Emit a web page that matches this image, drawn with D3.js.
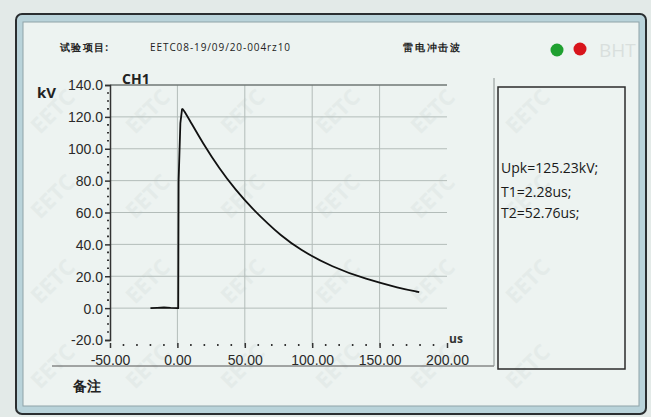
<!DOCTYPE html>
<meta charset="utf-8">
<style>
body { margin: 0; background: #e3eae8; }
svg { font-family: "Open Sans", "Noto Sans", sans-serif; }
</style>
<svg width="651" height="417"></svg>
<script src="https://cdn.jsdelivr.net/npm/d3@7"></script>
<script>

// waveform (time in us, voltage in kV)
var frontUs = [-20, -15, -10, -5, 0, 0.6, 0.9, 2.2, 3.5];
var frontKv = [0, 0.2, 0.4, 0.1, 0, 0, 80, 116, 125.2];
var tailUs = [3.5, 5, 10, 18.6, 31, 43.3, 55.7, 68, 75.5, 90.3, 115, 140, 164.6, 179.4];
var tailKv = [125.2, 124, 116.5, 104, 87.6, 74, 62.3, 52.3, 46.5, 36.8, 25.7, 18.1, 12.6, 10];

var yTicks = [140, 120, 100, 80, 60, 40, 20, 0, -20];
var xTicks = [-50, 0, 50, 100, 150, 200];
var results = ["Upk=125.23kV;", "T1=2.28us;", "T2=52.76us;"];
var header = ["试验项目:", "EETC08-19/09/20-004rz10", "雷电冲击波"];

var svg = d3.select("svg");

// window frame
svg.append("rect").attr("x", 16).attr("y", 14).attr("width", 630).attr("height", 400)
  .attr("rx", 6).attr("fill", "#b9d3da").attr("stroke", "#2a2e30").attr("stroke-width", 2);
svg.append("rect").attr("x", 23).attr("y", 22).attr("width", 616).attr("height", 384)
  .attr("fill", "#edf3f1").attr("stroke", "#8fa3a8").attr("stroke-width", 1);

// faint watermark, every copy fully inside the panel
var wm = svg.append("g").attr("fill", "#e4ebe9").style("font", "bold 22px 'Open Sans'");
for (var i = 0; i < 6; i++) {
  for (var j = 0; j < 4; j++) {
    wm.append("text").attr("transform", "translate(" + (40 + i * 95) + "," + (135 + j * 85) + ") rotate(-45)")
      .text("EETC");
  }
}

var x = d3.scaleLinear().domain([-50, 200]).range([110, 447]);
var y = d3.scaleLinear().domain([-20, 140]).range([340, 85]);

// header
var hx = [60, 150, 403];
svg.selectAll(".hdr").data(header).enter().append("text")
  .attr("x", function(d, i) { return hx[i]; }).attr("y", 51)
  .attr("font-size", 10).attr("fill", "#222")
  .attr("font-weight", function(d, i) { return i == 1 ? "normal" : "bold"; })
  .attr("textLength", function(d, i) { return [48, 140, 57][i]; })
  .text(function(d) { return d; });

svg.append("circle").attr("cx", 557).attr("cy", 50).attr("r", 6.5).attr("fill", "#1fa030");
svg.append("circle").attr("cx", 580).attr("cy", 49).attr("r", 6.5).attr("fill", "#d8141c");
svg.append("text").attr("x", 599).attr("y", 57).attr("font-size", 19).attr("fill", "#d9dfdd").text("BHT");

// grid
var grid = svg.append("g").attr("stroke", "#b3bcb9").attr("stroke-width", 1);
grid.selectAll(".h").data(yTicks.filter(function(d) { return d >= 0 && d < 140; })).enter().append("line")
  .attr("x1", x(-50)).attr("x2", x(200)).attr("y1", function(d) { return y(d); }).attr("y2", function(d) { return y(d); });
grid.selectAll(".v").data([0, 50, 100, 150]).enter().append("line")
  .attr("x1", function(d) { return x(d); }).attr("x2", function(d) { return x(d); })
  .attr("y1", y(140)).attr("y2", 346);
svg.append("line").attr("x1", x(-50)).attr("x2", x(200)).attr("y1", y(140)).attr("y2", y(140))
  .attr("stroke", "#6f7775").attr("stroke-width", 1.3);

// y axis
var yAxis = d3.axisLeft(y).tickValues(yTicks).tickSize(5).tickPadding(2)
  .tickFormat(function(d) { return d.toFixed(1); });
var gy = svg.append("g").attr("transform", "translate(110,0)").call(yAxis);
gy.select(".domain").attr("stroke", "#333").attr("stroke-width", 1.5);
gy.selectAll(".tick line").attr("stroke", "#333").attr("stroke-width", 1.5);
gy.selectAll("text").attr("font-size", 14).attr("fill", "#2a2a2a").attr("dy", "0.35em");
gy.selectAll(".minor").data(d3.range(-15, 140, 5).filter(function(d) { return d % 20 != 0; }))
  .enter().append("line").attr("x1", -3).attr("x2", -1)
  .attr("y1", function(d) { return y(d); }).attr("y2", function(d) { return y(d); })
  .attr("stroke", "#333").attr("stroke-width", 1.6);

// x axis (ticks only)
var xAxis = d3.axisBottom(x).tickValues(xTicks).tickSize(5).tickPadding(7)
  .tickFormat(function(d) { return d.toFixed(2); });
var gx = svg.append("g").attr("transform", "translate(0,343)").call(xAxis);
gx.select(".domain").remove();
gx.selectAll(".tick line").attr("stroke", "#333").attr("stroke-width", 1.5);
gx.selectAll("text").attr("font-size", 14).attr("fill", "#2a2a2a");
gx.selectAll(".minor").data(d3.range(-40, 200, 10).filter(function(d) { return d % 50 != 0; }))
  .enter().append("line").attr("y1", 1).attr("y2", 3)
  .attr("x1", function(d) { return x(d); }).attr("x2", function(d) { return x(d); })
  .attr("stroke", "#333").attr("stroke-width", 1.6);

// axis titles
svg.append("text").attr("x", 37).attr("y", 98).attr("font-size", 15).attr("font-weight", "bold").attr("fill", "#222").text("kV");
svg.append("text").attr("x", 122).attr("y", 84).attr("font-size", 14).attr("font-weight", "bold").attr("fill", "#222").text("CH1");
svg.append("text").attr("x", 449).attr("y", 343).attr("font-size", 12).attr("font-weight", "bold").attr("fill", "#333").text("us");

// waveform: sharp front, smooth tail
var front = frontUs.map(function(t, i) { return [t, frontKv[i]]; });
var tail = tailUs.map(function(t, i) { return [t, tailKv[i]]; });
var line = d3.line().x(function(d) { return x(d[0]); }).y(function(d) { return y(d[1]); });
svg.append("path").datum(front).attr("d", line).attr("fill", "none")
  .attr("stroke", "#111").attr("stroke-width", 1.8).attr("stroke-linejoin", "round");
svg.append("path").datum(tail).attr("d", line.curve(d3.curveBasis)).attr("fill", "none")
  .attr("stroke", "#111").attr("stroke-width", 1.8);

// separators
svg.append("line").attr("x1", 52).attr("x2", 494).attr("y1", 366).attr("y2", 366).attr("stroke", "#555").attr("stroke-width", 1);
svg.append("line").attr("x1", 494).attr("x2", 494).attr("y1", 78).attr("y2", 366).attr("stroke", "#8a9290").attr("stroke-width", 1);
svg.append("text").attr("x", 73).attr("y", 391).attr("font-size", 14).attr("font-weight", "bold").attr("fill", "#222").text("备注");

// result box
svg.append("rect").attr("x", 498).attr("y", 87).attr("width", 127).attr("height", 282)
  .attr("fill", "none").attr("stroke", "#2b2b2b").attr("stroke-width", 1.5);
svg.selectAll(".res").data(results).enter().append("text")
  .attr("x", 501).attr("y", function(d, i) { return [173, 197, 218][i]; })
  .attr("font-size", 14).attr("fill", "#1a1a1a")
  .text(function(d) { return d; });

</script>
